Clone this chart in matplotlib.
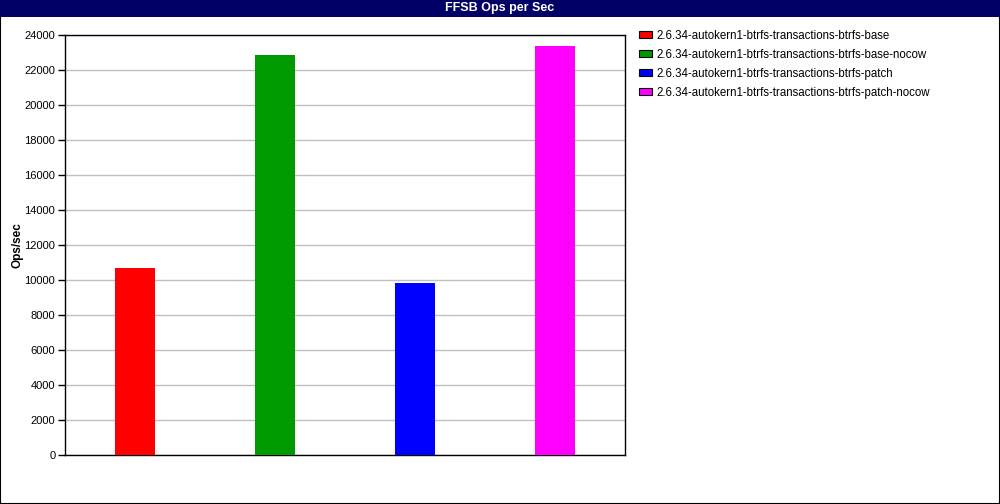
import matplotlib
matplotlib.use("Agg")
import matplotlib.pyplot as plt
from matplotlib.patches import Rectangle

series = [
    "2.6.34-autokern1-btrfs-transactions-btrfs-base",
    "2.6.34-autokern1-btrfs-transactions-btrfs-base-nocow",
    "2.6.34-autokern1-btrfs-transactions-btrfs-patch",
    "2.6.34-autokern1-btrfs-transactions-btrfs-patch-nocow",
]
values = [10690, 22860, 9830, 23370]
colors = ["#ff0000", "#009900", "#0000ff", "#ff00ff"]
yticks = [0, 2000, 4000, 6000, 8000, 10000, 12000, 14000, 16000, 18000, 20000, 22000, 24000]
title = "FFSB Ops per Sec"
ylabel = "Ops/sec"

plt.rcParams['font.family'] = ['Liberation Sans', 'DejaVu Sans']

W, H = 1000, 504
fig = plt.figure(figsize=(W / 100, H / 100), dpi=100)

# outer border
fig.patches.append(Rectangle((0, 0), 1, 1, transform=fig.transFigure,
                             fill=False, edgecolor="black", linewidth=1.5, zorder=0))
# title bar
fig.patches.append(Rectangle((0, 1 - 17 / H), 1, 17 / H, transform=fig.transFigure,
                             facecolor="#000066", edgecolor="none", zorder=1))
fig.text(0.5, 1 - 8.5 / H, title, color="white", fontsize=9, fontweight="bold",
         ha="center", va="center")

ax = fig.add_axes([65 / W, 1 - 455 / H, 560 / W, 420 / H])
x = list(range(len(values)))
ax.bar(x, values, width=40 / 140, color=colors, zorder=3)
ax.set_xlim(-0.5, len(values) - 0.5)
ax.set_ylim(0, 24000)
ax.set_yticks(yticks)
ax.set_yticklabels([str(t) for t in yticks], fontsize=8)
ax.set_xticks([])
ax.yaxis.grid(True, color="#c0c0c0", linewidth=1, zorder=0)
ax.tick_params(axis="y", length=5, width=1, pad=2)
for s in ax.spines.values():
    s.set_linewidth(1)
    s.set_color("black")
fig.text(17 / W, 1 - 245 / H, ylabel, fontsize=8.5, fontweight="bold",
         rotation=90, ha="center", va="center")

# legend
for i, (name, c) in enumerate(zip(series, colors)):
    ptop = 31 + i * 19
    fig.patches.append(Rectangle((639 / W, 1 - (ptop + 7) / H), 13 / W, 7 / H,
                                 transform=fig.transFigure, facecolor=c,
                                 edgecolor="black", linewidth=0.8))
    fig.text(656 / W, 1 - (ptop + 5) / H, name, fontsize=8.3, ha="left",
             va="center")

fig.savefig("out.png", dpi=100)
